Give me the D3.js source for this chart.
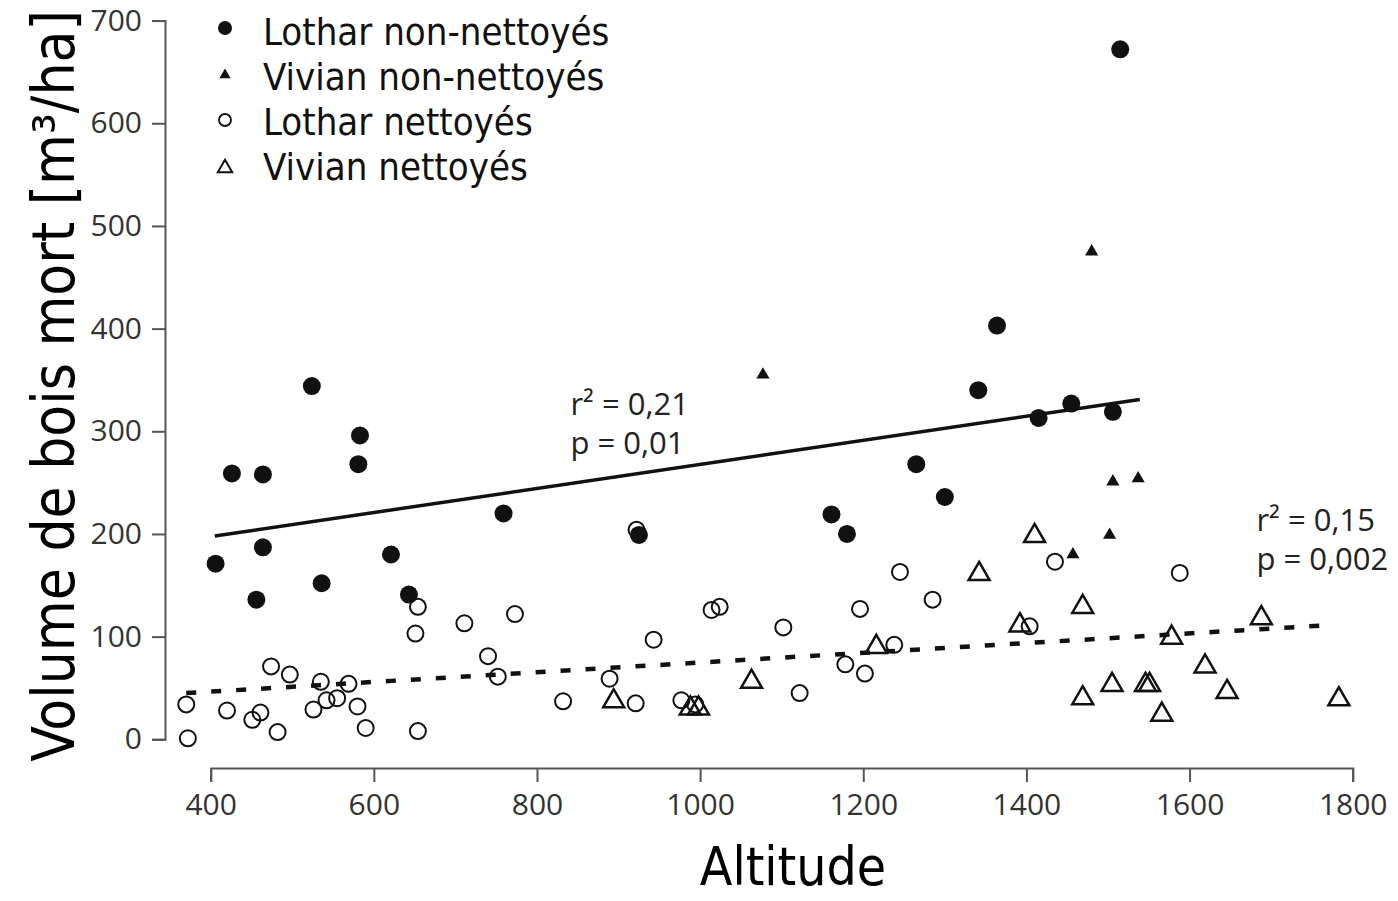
<!DOCTYPE html>
<html>
<head>
<meta charset="utf-8">
<script src="https://cdn.jsdelivr.net/npm/d3@7"></script>
<style>
  body { margin: 0; background: #fff; }
  svg { display: block; }
  .tick text { font-family: "Open Sans", sans-serif; font-size: 30px; fill: #333; }
  .axis path, .axis line { stroke: #555; stroke-width: 2; }
</style>
</head>
<body>
<div id="chart"></div>
<script>
// Data: [altitude, volume]
const lotharNon = [[406,171],[426,259],[464,258],[464,187],[456,136],[524,344],[536,152],[583,296],[581,268],
  [621,180],[643,141],[759,220],[925,199],[1161,219],[1180,200],[1265,268],[1300,236],[1341,340],[1364,403],
  [1415,313],[1455,327],[1506,319],[1515,672]];
const vivianNon = [[1077,355],[1480,475],[1506,251],[1537,254],[1502,199],[1457,180]];
const lotharNet = [[370,34],[372,1],[420,28],[461,26],[451,19],[474,71],[482,7],[497,63],[526,29],[535,56],
  [542,38],[555,40],[569,54],[580,32],[590,11],[651,103],[654,129],[654,8],[711,113],[740,81],[752,61],[773,122],
  [832,37],[889,59],[921,35],[922,204],[943,97],[977,38],[994,34],[1014,126],[1024,129],[1102,109],[1122,45],
  [1178,73],[1196,127],[1202,64],[1238,92],[1245,163],[1285,136],[1404,110],[1435,173],[1588,162]];
const vivianNet = [[894,37],[988,30],[998,30],[1063,56],[1216,90],[1342,161],[1392,111],[1410,198],[1469,129],
  [1469,40],[1505,53],[1546,53],[1551,53],[1566,24],[1578,99],[1619,71],[1646,46],[1688,118],[1783,39]];

// regression lines (end points)
const fitNon = [[405,198],[1539,331]];
const fitNet = [[370,45],[1766,111]];

const xTicks = [400,600,800,1000,1200,1400,1600,1800];
const yTicks = [0,100,200,300,400,500,600,700];

const legendLabels = ["Lothar non-nettoyés","Vivian non-nettoyés","Lothar nettoyés","Vivian nettoyés"];
const annotations = [
  { x: 841, y: 316, lines: ["r² = 0,21", "p = 0,01"] },
  { x: 1682, y: 203, lines: ["r² = 0,15", "p = 0,002"] }
];

const W = 1398, H = 901;

const svg = d3.select("#chart").append("svg")
  .attr("width", W)
  .attr("height", H);

const x = d3.scaleLinear().domain([400, 1800]).range([210.7, 1352.7]);
const y = d3.scaleLinear().domain([0, 700]).range([739.3, 20.6]);

// axes
svg.append("g")
  .attr("class", "axis")
  .attr("transform", "translate(0,768)")
  .call(d3.axisBottom(x).tickValues(xTicks).tickSize(14).tickPadding(12).tickFormat(d3.format("d")));

svg.append("g")
  .attr("class", "axis")
  .attr("transform", "translate(165,0)")
  .call(d3.axisLeft(y).tickValues(yTicks).tickSize(13).tickPadding(10).tickFormat(d3.format("d")));

// axis titles
svg.append("text")
  .attr("x", 793).attr("y", 885)
  .attr("text-anchor", "middle")
  .attr("font-family", "DejaVu Sans Condensed")
  .attr("font-size", 53)
  .text("Altitude");

svg.append("text")
  .attr("transform", "translate(74,386) rotate(-90)")
  .attr("text-anchor", "middle")
  .attr("font-family", "DejaVu Sans Condensed")
  .attr("font-size", 58)
  .text("Volume de bois mort [m³/ha]");

// regression lines
const line = d3.line().x(d => x(d[0])).y(d => y(d[1]));

svg.append("path")
  .datum(fitNon)
  .attr("d", line)
  .attr("fill", "none")
  .attr("stroke", "#111")
  .attr("stroke-width", 3.5);

svg.append("path")
  .datum(fitNet)
  .attr("d", line)
  .attr("fill", "none")
  .attr("stroke", "#111")
  .attr("stroke-width", 4.5)
  .attr("stroke-dasharray", "10,15");

// markers
const triFilled = d3.symbol().type(d3.symbolTriangle).size(75);
const triOpen = d3.symbol().type(d3.symbolTriangle).size(190);

svg.append("g").selectAll("circle")
  .data(lotharNet)
  .join("circle")
  .attr("cx", d => x(d[0])).attr("cy", d => y(d[1]))
  .attr("r", 8)
  .attr("fill", "none")
  .attr("stroke", "#111")
  .attr("stroke-width", 2);

svg.append("g").selectAll("path")
  .data(vivianNet)
  .join("path")
  .attr("transform", d => `translate(${x(d[0])},${y(d[1])})`)
  .attr("d", triOpen)
  .attr("fill", "none")
  .attr("stroke", "#111")
  .attr("stroke-width", 2.5);

svg.append("g").selectAll("circle")
  .data(lotharNon)
  .join("circle")
  .attr("cx", d => x(d[0])).attr("cy", d => y(d[1]))
  .attr("r", 9)
  .attr("fill", "#111");

svg.append("g").selectAll("path")
  .data(vivianNon)
  .join("path")
  .attr("transform", d => `translate(${x(d[0])},${y(d[1])})`)
  .attr("d", triFilled)
  .attr("fill", "#111");

// annotations
annotations.forEach(a => {
  const t = svg.append("text")
    .attr("font-family", "Open Sans")
    .attr("font-size", 31)
    .attr("fill", "#222");
  a.lines.forEach((s, i) => {
    t.append("tspan")
      .attr("x", x(a.x))
      .attr("y", y(a.y) + i * 39)
      .text(s);
  });
});

// legend
const legend = svg.append("g").attr("transform", "translate(225,0)");
const rowY = i => 30 + i * 45;

legend.append("circle").attr("cx", 0).attr("cy", rowY(0) - 2).attr("r", 7).attr("fill", "#111");
legend.append("path").attr("transform", `translate(0,${rowY(1)})`)
  .attr("d", d3.symbol().type(d3.symbolTriangle).size(55)).attr("fill", "#111");
legend.append("circle").attr("cx", 0).attr("cy", rowY(2)).attr("r", 6)
  .attr("fill", "none").attr("stroke", "#111").attr("stroke-width", 1.8);
legend.append("path").attr("transform", `translate(0,${rowY(3) + 3})`)
  .attr("d", d3.symbol().type(d3.symbolTriangle).size(90))
  .attr("fill", "none").attr("stroke", "#111").attr("stroke-width", 2);

legend.selectAll("text")
  .data(legendLabels)
  .join("text")
  .attr("x", 38)
  .attr("y", (d, i) => rowY(i) + 15)
  .attr("font-family", "DejaVu Sans Condensed")
  .attr("font-size", 38)
  .attr("fill", "#111")
  .text(d => d);
</script>
</body>
</html>
